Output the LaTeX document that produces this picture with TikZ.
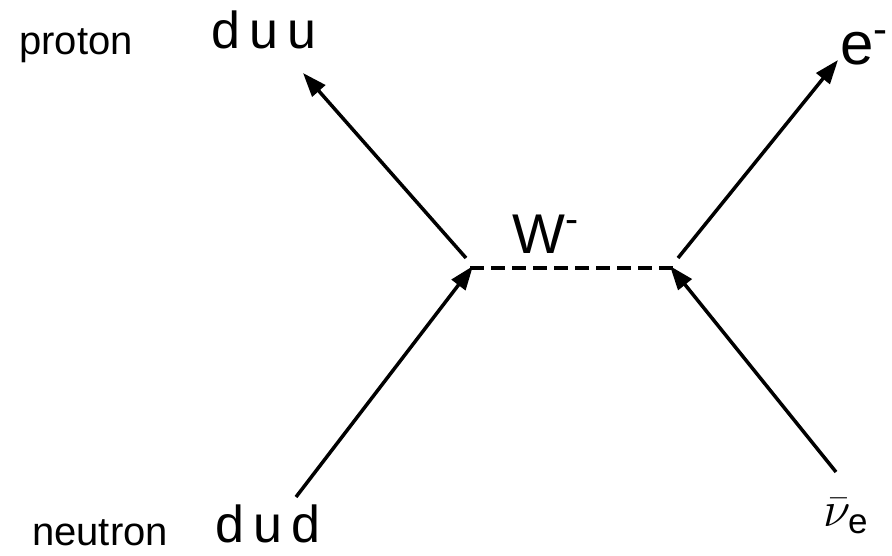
\documentclass[tikz,border=0pt]{standalone}
\usepackage{fix-cm}
\usepackage{fontspec}
\setmainfont{Liberation Sans}
\usetikzlibrary{arrows.meta}
\begin{document}
\begin{tikzpicture}[x=1pt,y=-1pt,
  fermion/.style={line width=3.5pt,-{Triangle[length=24pt,width=17pt]}},
  boson/.style={line width=4pt,dash pattern=on 14pt off 7pt},
  lbl/.style={inner sep=0pt,font=\fontsize{40}{40}\selectfont},
  quark/.style={inner sep=0pt,font=\fontsize{52}{52}\selectfont}]
\useasboundingbox (0,0) rectangle (892,556);
% vertices and ends
\coordinate (vl) at (470,268);
\coordinate (vr) at (673,268);
\coordinate (vlin) at (473,266);
\coordinate (vlout) at (466,258);
\coordinate (vrin) at (670,266);
\coordinate (vrout) at (678,258);
\coordinate (tl) at (303,73);
\coordinate (bl) at (296,497);
\coordinate (tr) at (838,60);
\coordinate (br) at (836,472);
% labels
\node[lbl] (proton) at (76,46) {proton};
\node[quark] (duu) at (264,30) {d\,u\,u};
\node[lbl] (neutron) at (100,533) {neutron};
\node[quark] (dud) at (268,524) {d\,u\,d};
\node[inner sep=0pt,font=\fontsize{60}{60}\selectfont] (em) at (864,48) {e\textsuperscript{-}};
\node[inner sep=0pt,font=\fontsize{56}{56}\selectfont] (W) at (546,234) {W\textsuperscript{-}};
\node[inner sep=0pt,font=\fontsize{50}{50}\selectfont] (nu) at (846,516) {$\bar{\nu}_{\mathrm{e}}$};
% lines
\draw[fermion] (vlout) -- (tl);
\draw[fermion] (bl) -- (vlin);
\draw[fermion] (vrout) -- (tr);
\draw[fermion] (br) -- (vrin);
\draw[boson] (vl) -- (vr);
\end{tikzpicture}
\end{document}
